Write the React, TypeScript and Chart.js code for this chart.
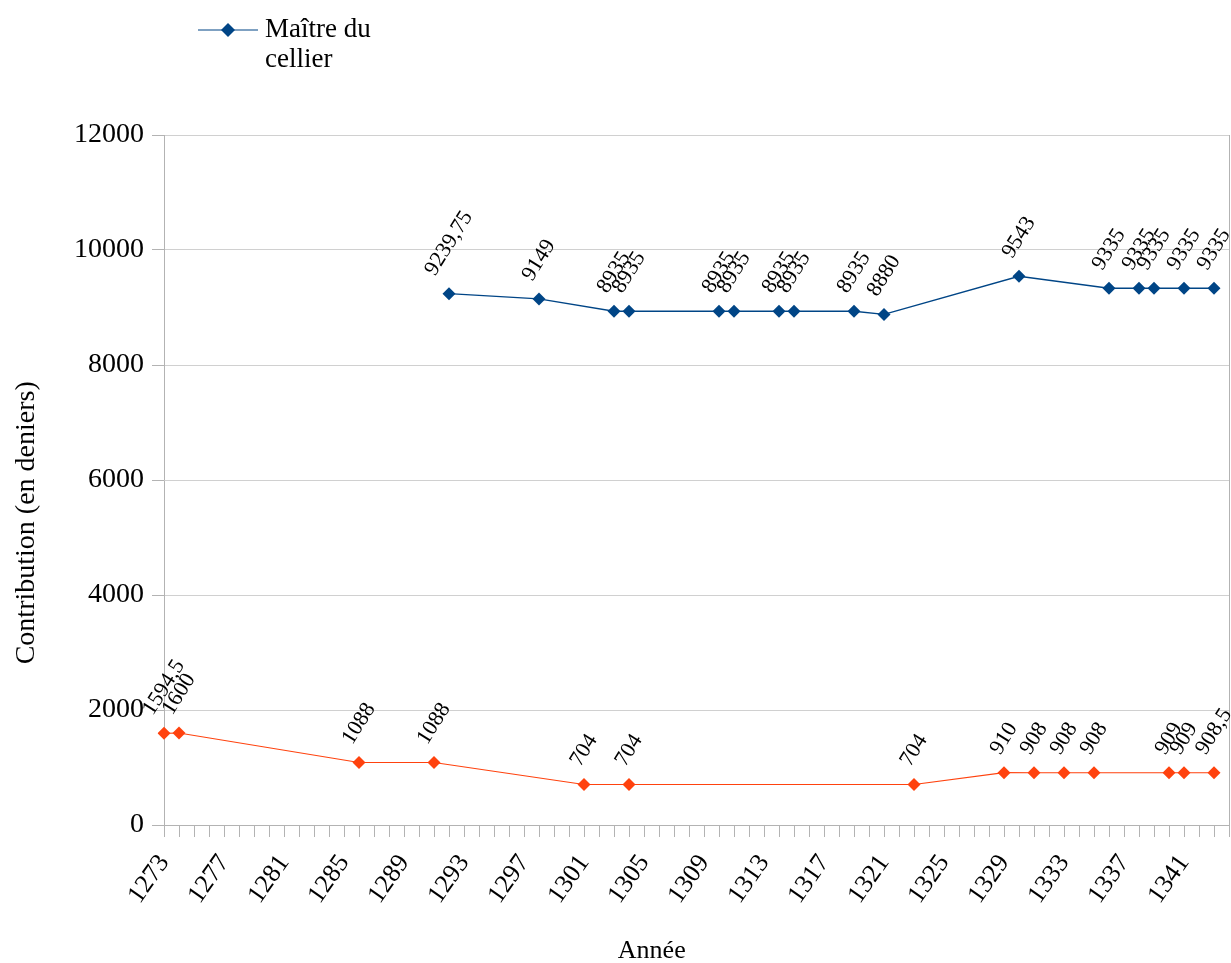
import React, { useEffect, useRef } from 'react';
import { Chart, registerables } from 'chart.js';

Chart.register(...registerables);

const years: string[] = [
  '1273', '1274', '1275', '1276', '1277', '1278', '1279', '1280', '1281', '1282', '1283', '1284',
  '1285', '1286', '1287', '1288', '1289', '1290', '1291', '1292', '1293', '1294', '1295', '1296',
  '1297', '1298', '1299', '1300', '1301', '1302', '1303', '1304', '1305', '1306', '1307', '1308',
  '1309', '1310', '1311', '1312', '1313', '1314', '1315', '1316', '1317', '1318', '1319', '1320',
  '1321', '1322', '1323', '1324', '1325', '1326', '1327', '1328', '1329', '1330', '1331', '1332',
  '1333', '1334', '1335', '1336', '1337', '1338', '1339', '1340', '1341', '1342', '1343', '1344',
];

const shownYearLabels: string[] = [
  '1273', '1277', '1281', '1285', '1289', '1293', '1297', '1301', '1305',
  '1309', '1313', '1317', '1321', '1325', '1329', '1333', '1337', '1341',
];

const cellierName = 'Maître du cellier';
const cellierYears: string[] = [
  '1292', '1298', '1303', '1304', '1310', '1311', '1314', '1315', '1319', '1321',
  '1330', '1336', '1338', '1339', '1341', '1343',
];
const cellierValues: number[] = [
  9239.75, 9149, 8935, 8935, 8935, 8935, 8935, 8935, 8935, 8880,
  9543, 9335, 9335, 9335, 9335, 9335,
];

const otherYears: string[] = [
  '1273', '1274', '1286', '1291', '1301', '1304', '1323', '1329', '1331', '1333',
  '1335', '1340', '1341', '1343',
];
const otherValues: number[] = [
  1594.5, 1600, 1088, 1088, 704, 704, 704, 910, 908, 908,
  908, 909, 909, 908.5,
];

const yTitle = 'Contribution (en deniers)';
const xTitle = 'Année';
const legendLines: string[] = ['Maître du', 'cellier'];

const FONT = '"Liberation Serif", "Times New Roman", serif';
const BLUE = '#004586';
const ORANGE = '#ff420e';

const fmt = (v: number) => String(v).replace('.', ',');

const decorPlugin = {
  id: 'decor',
  afterDatasetsDraw(chart: any) {
    const ctx = chart.ctx;
    const theta = (58 * Math.PI) / 180;
    const fs = 22;
    ctx.save();
    ctx.font = `${fs}px ${FONT}`;
    ctx.fillStyle = '#000';
    ctx.textAlign = 'center';
    ctx.textBaseline = 'middle';
    chart.data.datasets.forEach((ds: any, di: number) => {
      const meta = chart.getDatasetMeta(di);
      meta.data.forEach((pt: any, i: number) => {
        const raw = ds.data[i];
        if (!raw) return;
        const text = fmt(raw.y);
        const w = ctx.measureText(text).width;
        const h = fs * 0.7;
        const bboxH = w * Math.sin(theta) + h * Math.cos(theta);
        const cx = pt.x;
        const cy = pt.y - 16 - bboxH / 2;
        ctx.save();
        ctx.translate(cx, cy);
        ctx.rotate(-theta);
        ctx.fillText(text, 0, 0);
        ctx.restore();
      });
    });
    ctx.restore();
  },
  afterDraw(chart: any) {
    const ctx = chart.ctx;
    const area = chart.chartArea;
    ctx.save();
    ctx.fillStyle = '#000';
    // Y title
    ctx.font = `28px ${FONT}`;
    ctx.textAlign = 'center';
    ctx.textBaseline = 'middle';
    ctx.save();
    ctx.translate(27, area.top + (area.bottom - area.top) * 0.562);
    ctx.rotate(-Math.PI / 2);
    ctx.fillText(yTitle, 0, 0);
    ctx.restore();
    // X title
    ctx.font = `26px ${FONT}`;
    ctx.fillText(xTitle, area.left + (area.right - area.left) * 0.458, chart.height - 12);
    // Legend
    const ly = 30;
    ctx.strokeStyle = BLUE;
    ctx.lineWidth = 1.2;
    ctx.beginPath();
    ctx.moveTo(198, ly);
    ctx.lineTo(258, ly);
    ctx.stroke();
    ctx.fillStyle = BLUE;
    ctx.beginPath();
    ctx.moveTo(228 - 7, ly);
    ctx.lineTo(228, ly - 7);
    ctx.lineTo(228 + 7, ly);
    ctx.lineTo(228, ly + 7);
    ctx.closePath();
    ctx.fill();
    ctx.fillStyle = '#000';
    ctx.font = `27px ${FONT}`;
    ctx.textAlign = 'left';
    legendLines.forEach((line, i) => {
      ctx.fillText(line, 265, ly + i * 30);
    });
    ctx.restore();
  },
};

export default function App() {
  const canvasRef = useRef<HTMLCanvasElement | null>(null);

  useEffect(() => {
    document.body.style.margin = '0';
    const canvas = canvasRef.current;
    if (!canvas) return;
    const chart = new Chart(canvas, {
      type: 'line',
      data: {
        labels: years,
        datasets: [
          {
            label: cellierName,
            data: cellierYears.map((x, i) => ({ x, y: cellierValues[i] })),
            borderColor: BLUE,
            backgroundColor: BLUE,
            borderWidth: 1.3,
            pointStyle: 'rectRot',
            pointRadius: 6.5,
            pointBorderWidth: 0,
            spanGaps: true,
            tension: 0,
          },
          {
            label: '',
            data: otherYears.map((x, i) => ({ x, y: otherValues[i] })),
            borderColor: ORANGE,
            backgroundColor: ORANGE,
            borderWidth: 1.1,
            pointStyle: 'rectRot',
            pointRadius: 6.5,
            pointBorderWidth: 0,
            spanGaps: true,
            tension: 0,
          },
        ],
      },
      options: {
        responsive: true,
        maintainAspectRatio: false,
        animation: false,
        layout: { autoPadding: false, padding: { top: 135, right: 2, left: 0, bottom: 0 } },
        plugins: {
          legend: { display: false },
          tooltip: { enabled: false },
          title: { display: false },
        },
        scales: {
          x: {
            type: 'category',
            offset: false,
            grid: {
              display: true,
              drawOnChartArea: true,
              drawTicks: true,
              tickLength: 12,
              color: (c: any) => (c.index === years.length - 1 ? '#b3b3b3' : 'rgba(0,0,0,0)'),
              tickColor: '#b3b3b3',
            },
            border: { display: true, color: '#b3b3b3' },
            ticks: {
              autoSkip: false,
              minRotation: 55,
              maxRotation: 55,
              padding: 12,
              color: '#000',
              font: { family: FONT, size: 26 },
              callback: (_v: any, i: number) => (shownYearLabels.includes(years[i]) ? years[i] : ''),
            },
            afterFit: (s: any) => {
              s.height = 138;
              s.paddingRight = 0;
              s.paddingLeft = 0;
            },
          },
          y: {
            min: 0,
            max: 12000,
            grid: {
              color: (c: any) => (c.index === 0 ? '#b3b3b3' : '#d0d0d0'),
              tickColor: '#b3b3b3',
              tickLength: 12,
            },
            border: { display: true, color: '#b3b3b3' },
            ticks: {
              stepSize: 2000,
              padding: 8,
              color: '#000',
              font: { family: FONT, size: 28 },
              callback: (v: any) => String(v),
            },
            afterFit: (s: any) => {
              s.width = 164;
              s.paddingTop = 0;
              s.paddingBottom = 0;
            },
          },
        },
      },
      plugins: [decorPlugin],
    });
    return () => chart.destroy();
  }, []);

  return (
    <div style={{ width: 1231, height: 963, position: 'relative' }}>
      <canvas ref={canvasRef} />
    </div>
  );
}
